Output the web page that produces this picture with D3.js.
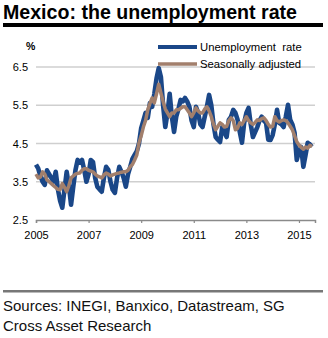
<!DOCTYPE html>
<html><head><meta charset="utf-8">
<script src="https://cdn.jsdelivr.net/npm/d3@7"></script>
<style>
html,body{margin:0;padding:0;background:#fff;}
svg{display:block;font-family:"Liberation Sans",Arial,sans-serif;}
</style></head>
<body><svg id="c" width="328" height="338"></svg>
<script>
const title = "Mexico: the unemployment rate";
const unit = "%";
const seriesNames = ["Unemployment  rate", "Seasonally adjusted"];
const startYear = 2005;
const yTicks = [2.5, 3.5, 4.5, 5.5, 6.5];
const xTicks = [2005, 2007, 2009, 2011, 2013, 2015];
const sources = ["Sources: INEGI, Banxico, Datastream, SG", "Cross Asset Research"];

// monthly, Jan 2005 - Jul 2015
const unemployment = [
  3.95, 3.85, 3.65, 3.5, 3.42, 3.8, 3.7, 3.6, 3.5, 3.76, 3.3, 3.0,
  2.82, 3.3, 3.76, 3.4, 2.9, 3.37, 3.8, 4.07, 4.0, 4.07, 3.81, 3.5,
  3.7, 4.07, 4.02, 3.6, 3.37, 3.3, 3.24, 3.6, 3.89, 3.81, 3.5, 3.29,
  3.21, 3.6, 3.89, 3.76, 3.6, 3.37, 3.7, 3.89, 4.1, 4.2, 4.3, 4.5,
  4.9, 5.1, 5.3, 5.17, 5.56, 5.46, 5.8, 6.2, 6.47, 6.24, 5.5, 4.93,
  5.3, 5.8, 5.2, 4.8, 5.2, 5.4, 5.64, 5.6, 5.69, 5.6, 5.46, 5.1,
  4.93, 5.46, 5.3, 5.0, 4.93, 5.2, 5.46, 5.77, 5.5, 5.0, 4.67, 4.6,
  4.54, 4.93, 4.8, 4.67, 5.12, 5.2, 5.38, 5.3, 5.12, 4.8, 4.52, 5.04,
  5.3, 5.43, 5.0, 4.67, 4.8, 4.93, 5.1, 5.2, 5.1, 5.04, 4.6, 4.59,
  4.72, 5.0, 5.38, 5.04, 5.0, 4.93, 5.2, 5.51, 5.12, 5.0, 4.78, 4.07,
  4.3, 4.41, 3.89, 4.2, 4.52, 4.45, 4.5
];
const seasonallyAdjusted = [
  3.7, 3.6, 3.62, 3.76, 3.7, 3.55, 3.5, 3.45, 3.4, 3.35, 3.3, 3.29,
  3.45, 3.35, 3.24, 3.4, 3.6, 3.65, 3.7, 3.72, 3.73, 3.8, 3.84, 3.84,
  3.8, 3.78, 3.76, 3.7, 3.65, 3.63, 3.6, 3.68, 3.73, 3.7, 3.65, 3.68,
  3.7, 3.72, 3.73, 3.75, 3.76, 3.76, 3.8, 3.89, 3.95, 4.07, 4.2, 4.52,
  4.7, 4.93, 5.1, 5.38, 5.55, 5.69, 5.56, 5.8, 6.05, 5.82, 5.6, 5.4,
  5.3, 5.2, 5.3, 5.3, 5.38, 5.38, 5.42, 5.46, 5.46, 5.38, 5.3, 5.2,
  5.3, 5.43, 5.35, 5.3, 5.3, 5.4, 5.46, 5.35, 5.2, 5.0, 4.86, 4.95,
  5.04, 5.0, 4.93, 4.95, 5.1, 5.17, 5.1, 4.86, 4.9, 5.04, 5.0, 5.1,
  5.2, 5.1, 5.04, 5.0, 5.05, 5.12, 5.1, 5.15, 5.17, 5.1, 5.0, 4.93,
  4.95, 5.2, 5.1, 5.06, 5.1, 5.12, 5.1, 5.04, 4.95, 4.86, 4.7, 4.55,
  4.46, 4.4, 4.35, 4.41, 4.38, 4.45, 4.42
];

const svg = d3.select("#c");
const blue = "#1a4788", brown = "#a27f6c";

svg.append("text").attr("x", 3).attr("y", 19)
  .attr("font-size", 19.6).attr("font-weight", "bold").attr("fill", "#000").text(title);
svg.append("rect").attr("x", 3).attr("y", 23).attr("width", 320).attr("height", 4).attr("fill", "#000");

const x = d3.scaleLinear().domain([2005, 2015.61]).range([36, 315]);
const y = d3.scaleLinear().domain([2.5, 6.5]).range([220, 67]);

// grid
svg.append("g").selectAll("line").data(yTicks.slice(1)).join("line")
  .attr("x1", 36).attr("x2", 315).attr("y1", d => y(d)).attr("y2", d => y(d))
  .attr("stroke", "#cfcfcf").attr("stroke-width", 1.5);

// y labels
svg.append("g").selectAll("text").data(yTicks).join("text")
  .attr("x", 28).attr("y", d => y(d) + 4).attr("text-anchor", "end")
  .attr("font-size", 11).attr("fill", "#000").text(d => d.toFixed(1));
svg.append("text").attr("x", 26).attr("y", 50).attr("font-size", 10.5).attr("font-weight","bold").text(unit);

// x axis
const xAxis = d3.axisBottom(x).tickValues(xTicks).tickSize(3).tickFormat(d3.format("d"));
const gx = svg.append("g").attr("transform", `translate(0,${y(2.5)})`).call(xAxis);
gx.select(".domain").attr("stroke", "#8a8a8a").attr("stroke-width", 1.5);
gx.selectAll(".tick line").attr("stroke", "#8a8a8a").attr("stroke-width", 1.2);
gx.selectAll(".tick text").attr("font-size", 11).attr("fill", "#000").attr("dy", "1.2em")
  .attr("font-family", '"Liberation Sans",Arial,sans-serif');

const line = d3.line().x((d, i) => x(startYear + i / 12)).y(d => y(d)).curve(d3.curveLinear);

svg.append("path").datum(unemployment).attr("d", line)
  .attr("fill", "none").attr("stroke", blue).attr("stroke-width", 4.6).attr("stroke-linejoin", "round");
svg.append("path").datum(seasonallyAdjusted).attr("d", line)
  .attr("fill", "none").attr("stroke", brown).attr("stroke-width", 3.5).attr("stroke-linejoin", "round");

// legend
const leg = [{n: seriesNames[0], c: blue, w: 4, ly: 47}, {n: seriesNames[1], c: brown, w: 3.4, ly: 64}];
leg.forEach(l => {
  svg.append("line").attr("x1", 158).attr("x2", 197).attr("y1", l.ly).attr("y2", l.ly)
    .attr("stroke", l.c).attr("stroke-width", l.w);
  svg.append("text").attr("x", 200).attr("y", l.ly + 4).attr("font-size", 11.3)
    .style("white-space", "pre").attr("fill", "#000").text(l.n);
});

// footer
svg.append("rect").attr("x", 3).attr("y", 290).attr("width", 320).attr("height", 2.5).attr("fill", "#777");
sources.forEach((s, i) => {
  svg.append("text").attr("x", 3).attr("y", 311 + i * 20).attr("font-size", 15)
    .attr("fill", "#111").text(s);
});
</script></body></html>
